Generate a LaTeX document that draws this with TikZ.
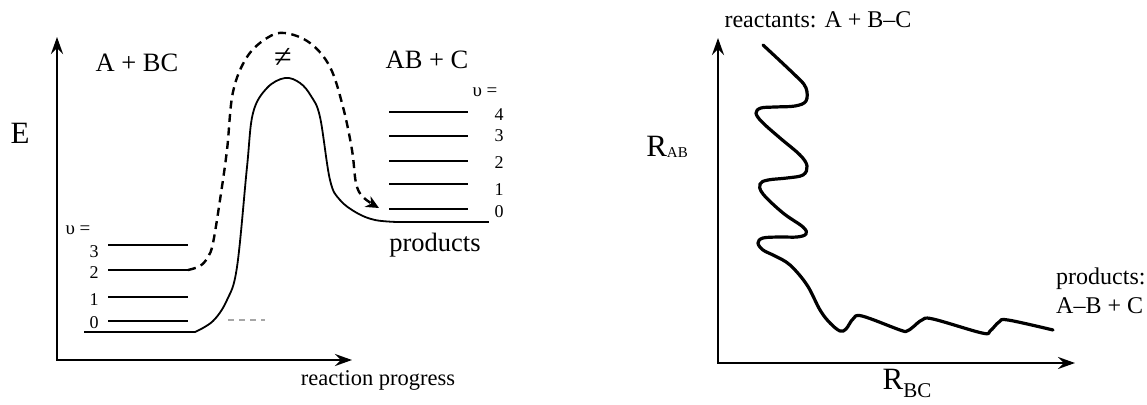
\documentclass[tikz,border=0pt]{standalone}
\usepackage{fontspec}
\setmainfont{Liberation Serif}
\usetikzlibrary{arrows.meta}
\begin{document}
\begin{tikzpicture}[x=1pt,y=-1pt,
  axis/.style={line width=2.6pt,{Stealth[length=17pt,width=12pt,inset=6pt]}-{Stealth[length=17pt,width=12pt,inset=6pt]}},
  level/.style={line width=2.2pt},
  ground/.style={line width=1.6pt},
  curve/.style={line width=1.8pt,line join=round,line cap=round},
  wave/.style={line width=3.2pt,line join=round,line cap=round},
  dashcurve/.style={line width=2.4pt,dash pattern=on 8pt off 5.5pt,-{Stealth[length=13pt,width=12pt,inset=4pt]}},
  lbl/.style={inner sep=0pt,font=\fontsize{26.5}{30}\selectfont},
  num/.style={inner sep=0pt,font=\fontsize{18}{20}\selectfont},
]
\useasboundingbox (0,0) rectangle (1147,404);

% ---------- left diagram ----------
\coordinate (lo) at (57,360);
\coordinate (ly) at (57,37);
\coordinate (lx) at (352,360);
\draw[axis] (ly) -- (lo) -- (lx);

\node[lbl,font=\fontsize{31}{35}\selectfont] (E) at (20,133) {E};
\node[lbl] (abc) at (137,63) {A + BC};
\node[lbl,font=\fontsize{32}{36}\selectfont] (ts) at (283,58) {≠};
\node[lbl] (abc2) at (427,60) {AB + C};
\node[lbl] (prod) at (435,245) {products};
\node[lbl,font=\fontsize{22.5}{26}\selectfont] (rp) at (378,380) {reaction progress};

% reactant levels
\node[num,font=\fontsize{19}{21}\selectfont] (vL) at (78,230) {υ =};
\draw[level] (108,245) -- (188,245);
\draw[level] (108,270) -- (188,270);
\draw[level] (108,297) -- (188,297);
\draw[level] (108,321) -- (188,321);
\node[num] (l3) at (94,252) {3};
\node[num] (l2) at (94,273) {2};
\node[num] (l1) at (94,300) {1};
\node[num] (l0) at (94,323) {0};

% product levels
\node[num,font=\fontsize{19}{21}\selectfont] (vR) at (485,92) {υ =};
\draw[level] (389,112) -- (468,112);
\draw[level] (389,136) -- (468,136);
\draw[level] (389,161) -- (468,161);
\draw[level] (389,184) -- (468,184);
\draw[level] (389,209) -- (468,209);
\node[num] (r4) at (499,115) {4};
\node[num] (r3) at (499,136) {3};
\node[num] (r2) at (499,163) {2};
\node[num] (r1) at (499,190) {1};
\node[num] (r0) at (499,212) {0};

% energy profile
\draw[ground] (84,332) -- (195,332);
\draw[curve] plot[smooth,tension=0.6] coordinates {(195,332) (213,321) (227,300) (237,267) (247,167) (253,113) (267,88) (285,78) (300,83) (311,96) (320,117) (330,180) (340,200) (357,213) (375,220) (397,222)};
\draw[ground] (397,222) -- (489,222);

% grey dashed
\draw[gray!70,line width=1.6pt,dash pattern=on 6pt off 5pt] (228,320) -- (265,320);

% dashed trajectory
\draw[dashcurve] plot[smooth,tension=0.6] coordinates {(188,270) (200,266) (208,257) (213,243) (220,200) (227,150) (233,92) (247,57) (267,38) (285,33) (310,43) (330,67) (343,107) (352,150) (356,183) (363,197) (379,208)};

% ---------- right diagram ----------
\coordinate (ro) at (718,363);
\coordinate (ry) at (718,38);
\coordinate (rx) at (1075,363);
\draw[axis] (ry) -- (ro) -- (rx);

\node[lbl,font=\fontsize{24}{28}\selectfont] (react) at (818,20) {reactants: A + B–C};
\node[lbl,font=\fontsize{24}{29}\selectfont,align=left,anchor=north west] (prods) at (1056,268) {products:\\A–B + C};
\node[lbl,font=\fontsize{31}{35}\selectfont,anchor=base] (Rab) at (667,156) {R\raisebox{-1pt}{\fontsize{15}{17}\selectfont AB}};
\node[lbl,font=\fontsize{31}{35}\selectfont,anchor=base] (Rbc) at (907,389) {R\raisebox{-8pt}{\fontsize{21}{24}\selectfont BC}};

\draw[wave] plot[smooth,tension=0.6] coordinates {(763,45) (797,77) (806,88) (806,101) (795,106) (775,107) (761,108) (756,113) (762,122) (780,138) (800,155) (807,166) (803,175) (787,178) (768,180) (760,184) (763,194) (783,213) (803,227) (806,234) (797,237) (780,237) (763,238) (758,243) (763,250) (775,256) (790,265) (807,285) (820,310) (830,323) (840,331) (846,329) (853,319) (862,316) (900,330) (907,331) (913,327) (922,320) (933,319) (982,333) (990,331) (999,322) (1008,320) (1053,330)};
\end{tikzpicture}
\end{document}
